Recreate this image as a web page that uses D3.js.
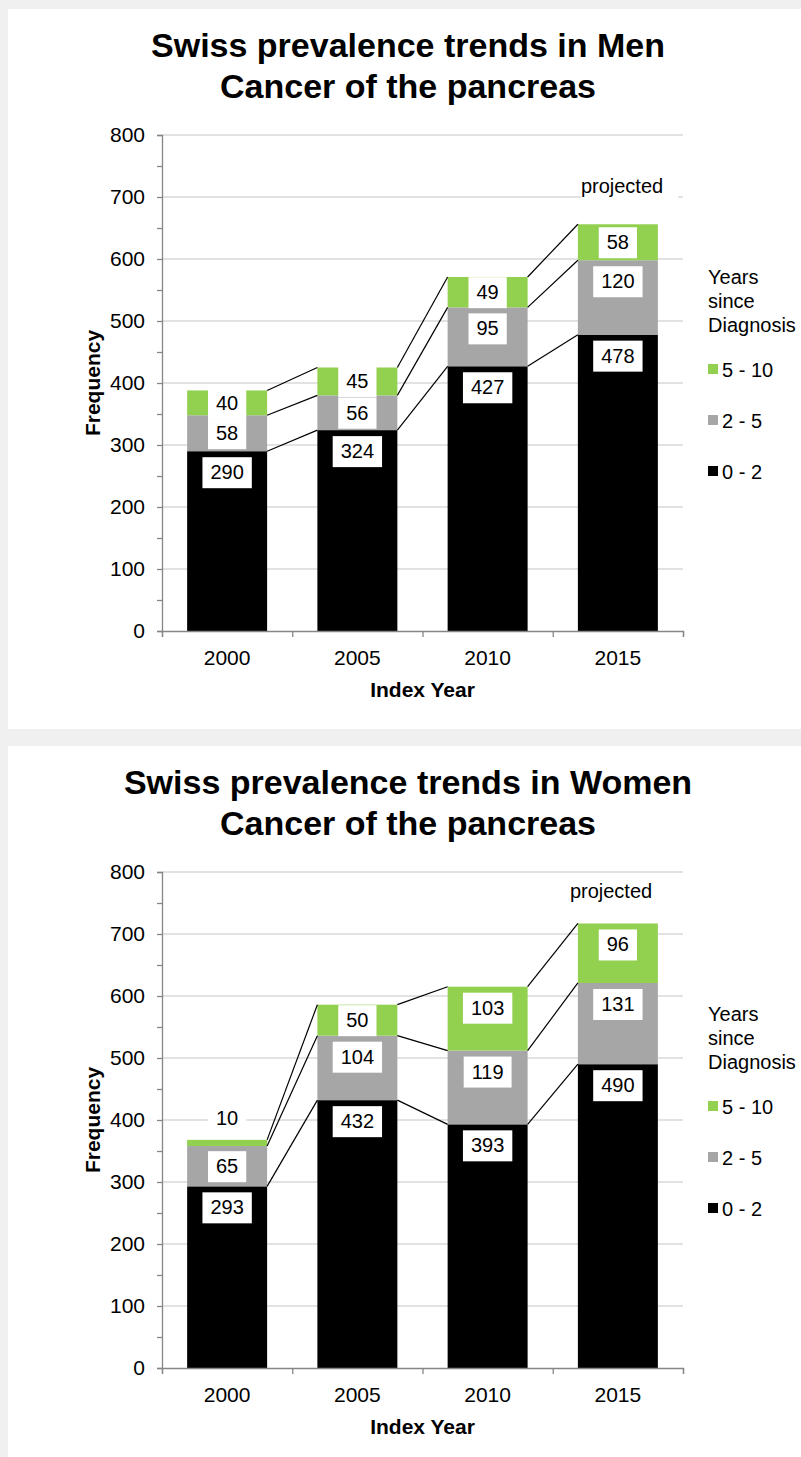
<!DOCTYPE html>
<html>
<head>
<meta charset="utf-8">
<script src="https://cdn.jsdelivr.net/npm/d3@7"></script>
<style>
  html, body { margin: 0; padding: 0; background: #f0f0f0; }
  svg { display: block; font-family: "Liberation Sans", Arial, sans-serif; }
</style>
</head>
<body>
<svg id="chart" width="801" height="1457"></svg>
<script>
// Data
const years = ['2000', '2005', '2010', '2015'];
const seriesNames = ['0 - 2', '2 - 5', '5 - 10'];
const seriesColors = ['#000000', '#a6a6a6', '#92d050'];
const yTicks = [0, 100, 200, 300, 400, 500, 600, 700, 800];

const menShort = [290, 324, 427, 478];
const menMid = [58, 56, 95, 120];
const menLong = [40, 45, 49, 58];

const womenShort = [293, 432, 393, 490];
const womenMid = [65, 104, 119, 131];
const womenLong = [10, 50, 103, 96];

const panels = [
    { title: 'Swiss prevalence trends in Men', series: [menShort, menMid, menLong], offset: 0, projDx: 3, projDy: -31, projBox: true },
    { title: 'Swiss prevalence trends in Women', series: [womenShort, womenMid, womenLong], offset: 737, projDx: -8, projDy: -25, projBox: false }
];

const plot = { left: 162, right: 683, top: 135, bottom: 631 };
const axisColor = '#868686';
const gridColor = '#d9d9d9';

const svg = d3.select('#chart');

const x = d3.scaleBand()
    .domain(years)
    .range([plot.left, plot.right])
    .paddingInner(0.386)
    .paddingOuter(0.193);

const xb = d3.scaleLinear()
    .domain([0, years.length])
    .range([plot.left, plot.right]);

const y = d3.scaleLinear()
    .domain([0, 800])
    .range([plot.bottom, plot.top]);

function drawPanel(p) {
    const g = svg.append('g').attr('transform', `translate(0,${p.offset})`);

    g.append('rect')
        .attr('x', 8).attr('y', 9)
        .attr('width', 793).attr('height', 720)
        .attr('fill', '#fff');

    // Title
    g.append('text')
        .attr('x', 408).attr('y', 57)
        .attr('text-anchor', 'middle')
        .style('font-size', '34px').style('font-weight', 'bold')
        .text(p.title);
    g.append('text')
        .attr('x', 408).attr('y', 98)
        .attr('text-anchor', 'middle')
        .style('font-size', '34px').style('font-weight', 'bold')
        .text('Cancer of the pancreas');

    // Gridlines
    g.append('g').selectAll('line')
        .data(yTicks.filter(d => d > 0))
        .enter().append('line')
        .attr('x1', plot.left).attr('x2', plot.right)
        .attr('y1', d => y(d)).attr('y2', d => y(d))
        .attr('stroke', gridColor).attr('stroke-width', 1.3);

    // Stack data
    const rows = years.map((yr, i) => {
        let cum = 0;
        return p.series.map((s, k) => {
            const v = s[i];
            const seg = { year: yr, k: k, v: v, y0: cum, y1: cum + v };
            cum += v;
            return seg;
        });
    });

    // "projected" annotation
    const last = rows[rows.length - 1];
    const projX = x('2015') + p.projDx;
    const projY = y(last[last.length - 1].y1) + p.projDy;
    const projG = g.append('g');
    const projText = projG.append('text')
        .attr('x', projX).attr('y', projY)
        .style('font-size', '20px')
        .text('projected');
    if (p.projBox) {
        const w = projText.node().getComputedTextLength();
        projG.insert('rect', 'text')
            .attr('x', projX).attr('y', projY - 21)
            .attr('width', w + 15).attr('height', 29)
            .attr('fill', '#fff');
    }

    // Bars
    rows.forEach(segs => {
        g.append('g').selectAll('rect')
            .data(segs)
            .enter().append('rect')
            .attr('x', d => x(d.year))
            .attr('width', x.bandwidth())
            .attr('y', d => y(d.y1))
            .attr('height', d => y(d.y0) - y(d.y1))
            .attr('fill', d => seriesColors[d.k]);
    });

    // Connector lines
    for (let i = 0; i < years.length - 1; i++) {
        for (let k = 0; k < seriesNames.length; k++) {
            g.append('line')
                .attr('x1', x(years[i]) + x.bandwidth())
                .attr('y1', y(rows[i][k].y1))
                .attr('x2', x(years[i + 1]))
                .attr('y2', y(rows[i + 1][k].y1))
                .attr('stroke', '#000').attr('stroke-width', 1.2);
        }
    }

    // Data labels
    rows.forEach(segs => {
        segs.forEach(d => {
            const top = y(d.y1), bot = y(d.y0), h = bot - top;
            let cy;
            if (h < 12) cy = top - 22;
            else cy = Math.min(top + 21, (top + bot) / 2);
            const cx = x(d.year) + x.bandwidth() / 2;
            const lg = g.append('g');
            const t = lg.append('text')
                .attr('x', cx).attr('y', cy + 7)
                .attr('text-anchor', 'middle')
                .style('font-size', '20px')
                .text(d.v);
            const w = t.node().getComputedTextLength();
            lg.insert('rect', 'text')
                .attr('x', cx - w / 2 - 8).attr('y', cy - 15)
                .attr('width', w + 16).attr('height', 31)
                .attr('fill', '#fff');
        });
    });

    // Y axis with minor ticks
    g.append('g')
        .attr('transform', `translate(${plot.left},0)`)
        .call(d3.axisLeft(y).tickValues(d3.range(0, 801, 50)).tickSize(5).tickFormat(''))
        .call(a => a.selectAll('path, line').attr('stroke', axisColor).attr('stroke-width', 1.3));

    g.append('g').selectAll('text')
        .data(yTicks)
        .enter().append('text')
        .attr('x', 145).attr('y', d => y(d) + 7)
        .attr('text-anchor', 'end')
        .style('font-size', '21px')
        .text(d => d);

    // X axis
    g.append('g')
        .attr('transform', `translate(0,${plot.bottom})`)
        .call(d3.axisBottom(xb).ticks(years.length).tickSize(6).tickSizeOuter(6).tickFormat(''))
        .call(a => a.selectAll('path, line').attr('stroke', axisColor).attr('stroke-width', 1.3));

    g.append('g').selectAll('text')
        .data(years)
        .enter().append('text')
        .attr('x', d => x(d) + x.bandwidth() / 2)
        .attr('y', 665)
        .attr('text-anchor', 'middle')
        .style('font-size', '21px')
        .text(d => d);

    // Axis titles
    g.append('text')
        .attr('x', (plot.left + plot.right) / 2).attr('y', 697)
        .attr('text-anchor', 'middle')
        .style('font-size', '21px').style('font-weight', 'bold')
        .text('Index Year');
    g.append('text')
        .attr('transform', `translate(100,${(plot.top + plot.bottom) / 2}) rotate(-90)`)
        .attr('text-anchor', 'middle')
        .style('font-size', '21px').style('font-weight', 'bold')
        .text('Frequency');

    // Legend
    const lgTitle = ['Years', 'since', 'Diagnosis'];
    lgTitle.forEach((s, i) => {
        g.append('text')
            .attr('x', 708).attr('y', 284 + i * 24)
            .style('font-size', '20px')
            .text(s);
    });
    const order = [2, 1, 0];
    order.forEach((k, i) => {
        g.append('rect')
            .attr('x', 708).attr('y', 364 + i * 51)
            .attr('width', 10).attr('height', 10)
            .attr('fill', seriesColors[k]);
        g.append('text')
            .attr('x', 722).attr('y', 377 + i * 51)
            .style('font-size', '20px')
            .text(seriesNames[k]);
    });
}

panels.forEach(drawPanel);
</script>
</body>
</html>
